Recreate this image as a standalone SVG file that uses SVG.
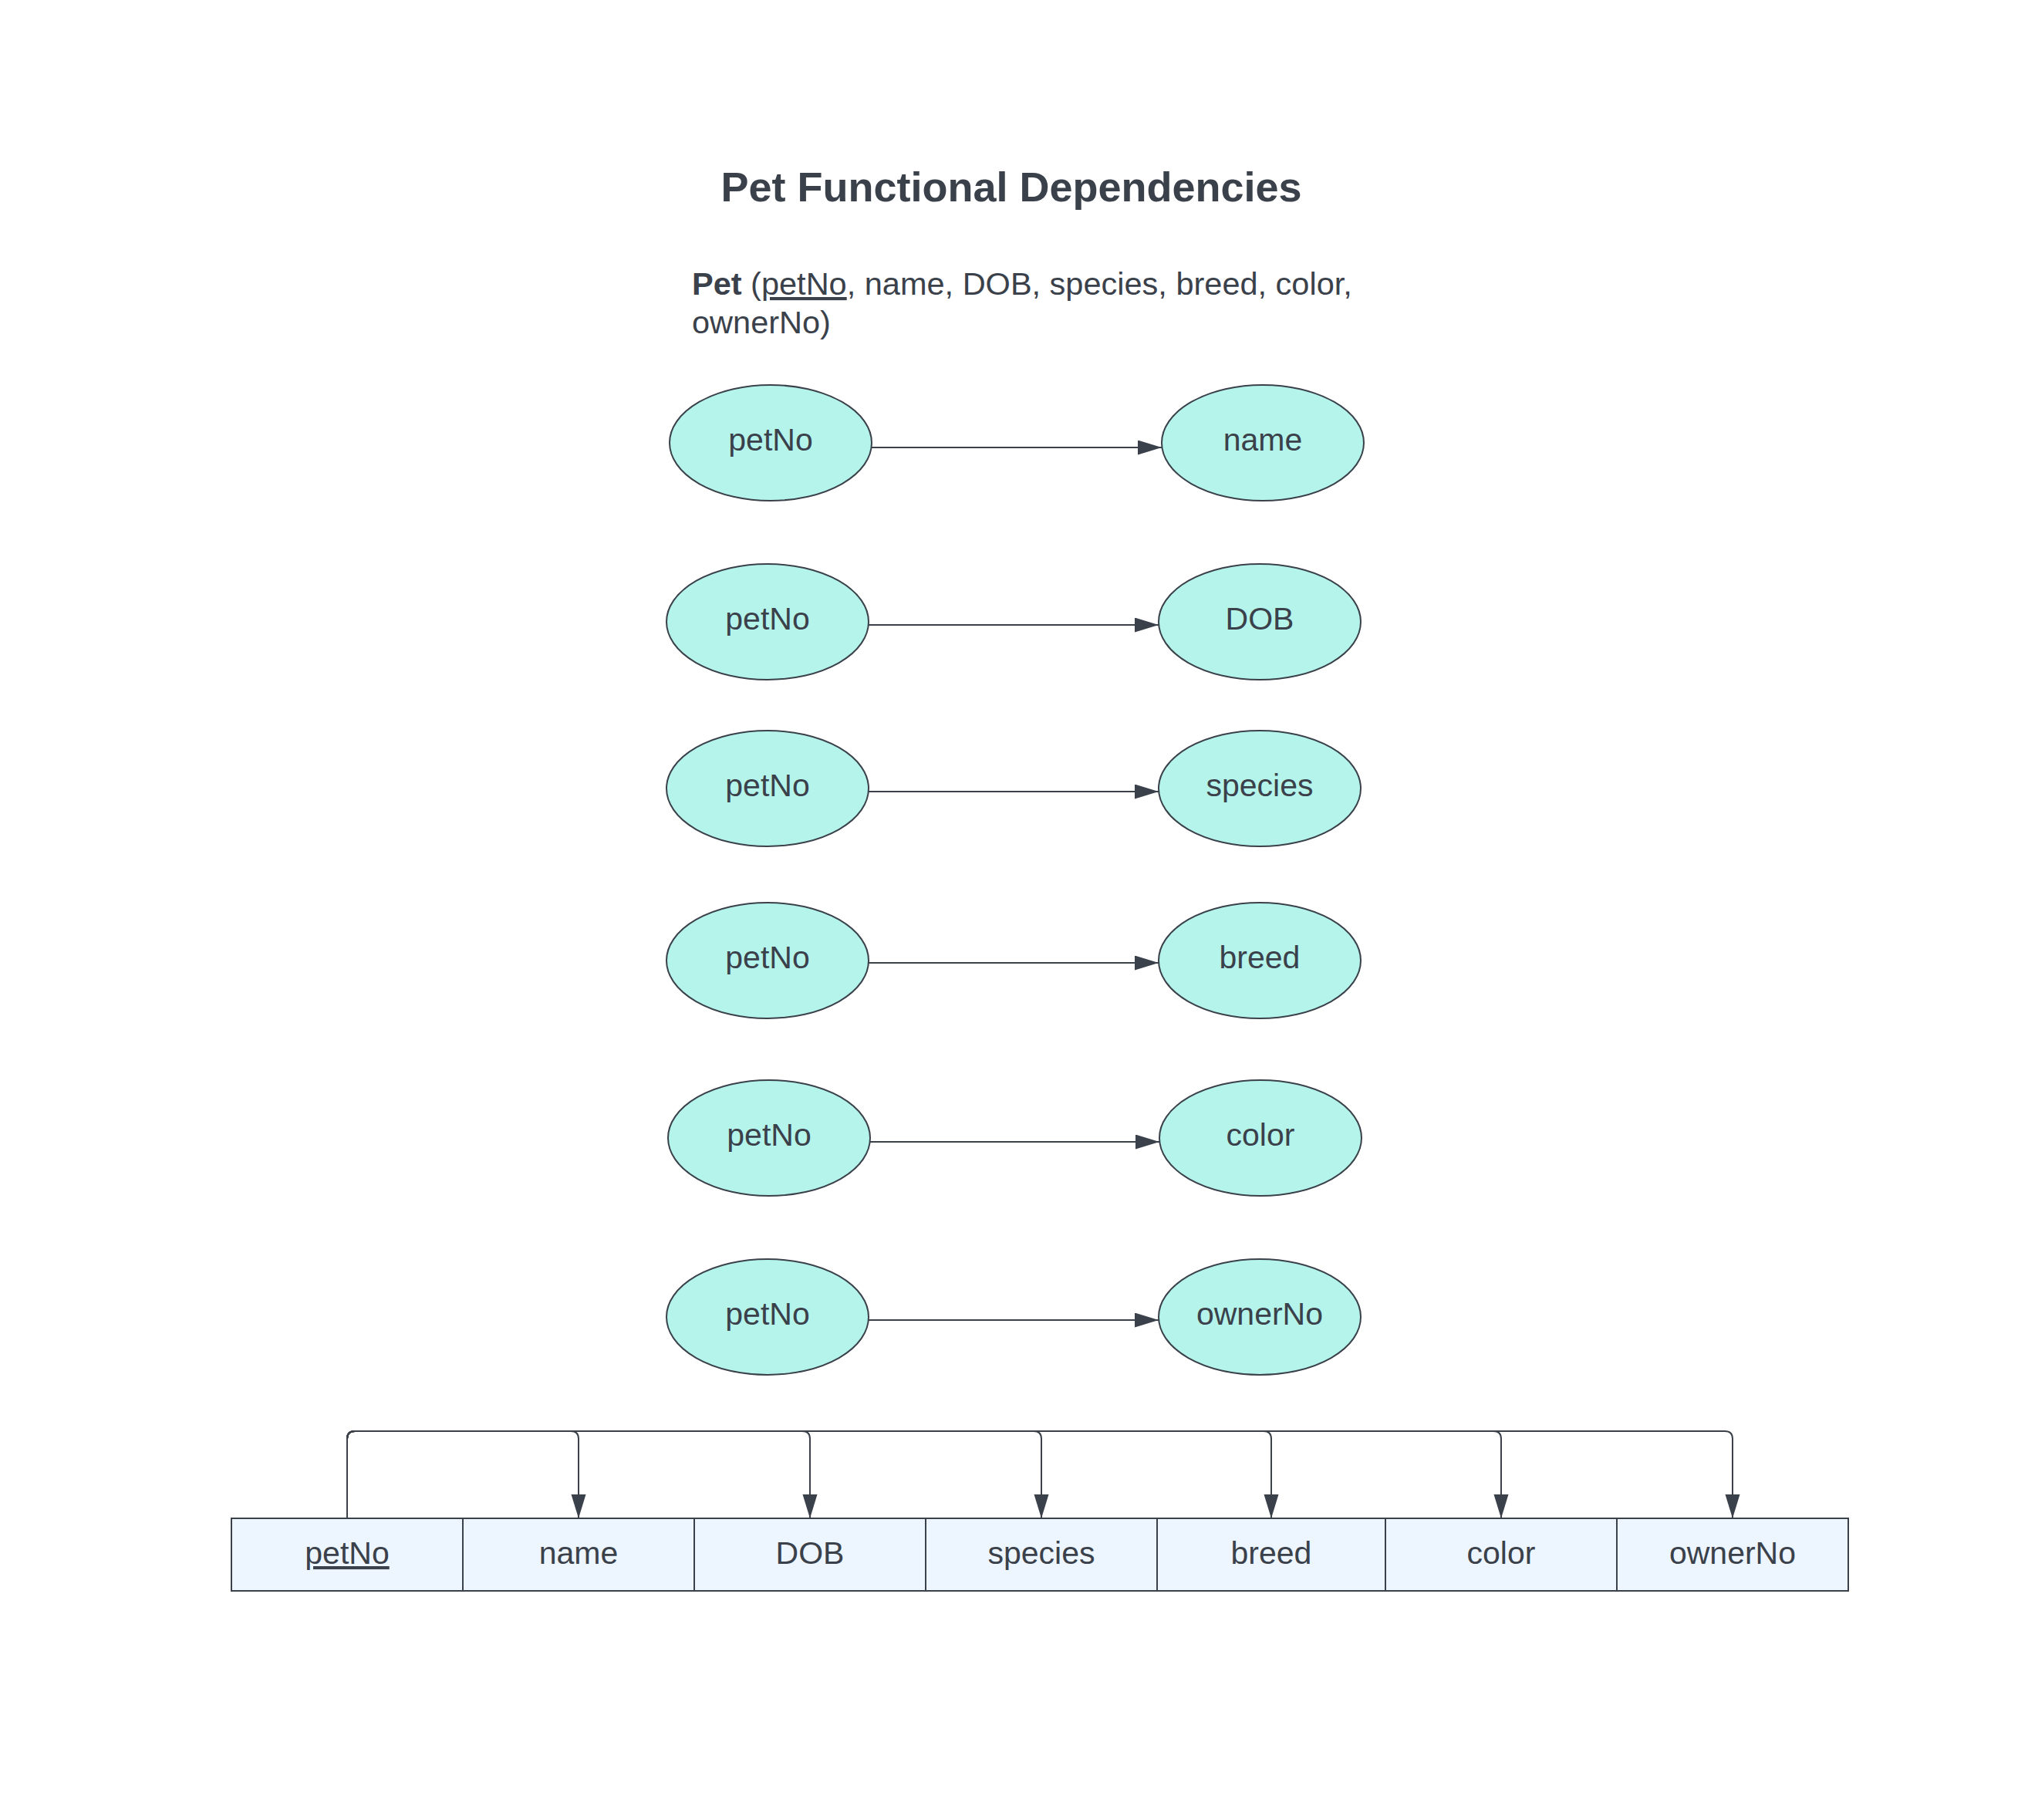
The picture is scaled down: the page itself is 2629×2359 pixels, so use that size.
<svg xmlns="http://www.w3.org/2000/svg" width="2629" height="2359" viewBox="0 0 2629 2359">
<defs>
<marker id="arr" markerUnits="userSpaceOnUse" markerWidth="32" markerHeight="20" refX="31" refY="9.5" orient="auto">
<path d="M0,0 L31,9.5 L0,19 z" fill="#3a414a"/>
</marker>
<style>
.t{font-family:"Liberation Sans",Arial,sans-serif;fill:#3a414a}
.lbl{font-size:41px;text-anchor:middle}
.ell{fill:#b5f4ea;stroke:#3a414a;stroke-width:2}
.cell{fill:#edf5ff;stroke:#3a414a;stroke-width:2}
.con{fill:none;stroke:#3a414a;stroke-width:2;marker-end:url(#arr)}
</style>
</defs>
<rect width="2629" height="2359" fill="#ffffff"/>
<text class="t" x="1311" y="261" font-size="54" font-weight="bold" text-anchor="middle">Pet Functional Dependencies</text>
<text class="t" font-size="41.5"><tspan x="897" y="382"><tspan font-weight="bold">Pet</tspan> (<tspan text-decoration="underline">petNo</tspan>, name, DOB, species, breed, color,</tspan><tspan x="897" y="432">ownerNo)</tspan></text>

<g id="r1l"><ellipse class="ell" cx="999" cy="574" rx="131" ry="75"/><text class="t lbl" x="999" y="584">petNo</text></g>
<g id="r1r"><ellipse class="ell" cx="1637" cy="574" rx="131" ry="75"/><text class="t lbl" x="1637" y="584">name</text></g>
<g id="r2l"><ellipse class="ell" cx="995" cy="806" rx="131" ry="75"/><text class="t lbl" x="995" y="816">petNo</text></g>
<g id="r2r"><ellipse class="ell" cx="1633" cy="806" rx="131" ry="75"/><text class="t lbl" x="1633" y="816">DOB</text></g>
<g id="r3l"><ellipse class="ell" cx="995" cy="1022" rx="131" ry="75"/><text class="t lbl" x="995" y="1032">petNo</text></g>
<g id="r3r"><ellipse class="ell" cx="1633" cy="1022" rx="131" ry="75"/><text class="t lbl" x="1633" y="1032">species</text></g>
<g id="r4l"><ellipse class="ell" cx="995" cy="1245" rx="131" ry="75"/><text class="t lbl" x="995" y="1255">petNo</text></g>
<g id="r4r"><ellipse class="ell" cx="1633" cy="1245" rx="131" ry="75"/><text class="t lbl" x="1633" y="1255">breed</text></g>
<g id="r5l"><ellipse class="ell" cx="997" cy="1475" rx="131" ry="75"/><text class="t lbl" x="997" y="1485">petNo</text></g>
<g id="r5r"><ellipse class="ell" cx="1634" cy="1475" rx="131" ry="75"/><text class="t lbl" x="1634" y="1485">color</text></g>
<g id="r6l"><ellipse class="ell" cx="995" cy="1707" rx="131" ry="75"/><text class="t lbl" x="995" y="1717">petNo</text></g>
<g id="r6r"><ellipse class="ell" cx="1633" cy="1707" rx="131" ry="75"/><text class="t lbl" x="1633" y="1717">ownerNo</text></g>

<g id="table">
<g id="c-petNo"><rect class="cell" x="300" y="1968" width="300" height="94"/><text class="t lbl" x="450" y="2027" text-decoration="underline">petNo</text></g>
<g id="c-name"><rect class="cell" x="600" y="1968" width="300" height="94"/><text class="t lbl" x="750" y="2027">name</text></g>
<g id="c-DOB"><rect class="cell" x="900" y="1968" width="300" height="94"/><text class="t lbl" x="1050" y="2027">DOB</text></g>
<g id="c-species"><rect class="cell" x="1200" y="1968" width="300" height="94"/><text class="t lbl" x="1350" y="2027">species</text></g>
<g id="c-breed"><rect class="cell" x="1500" y="1968" width="296" height="94"/><text class="t lbl" x="1648" y="2027">breed</text></g>
<g id="c-color"><rect class="cell" x="1796" y="1968" width="300" height="94"/><text class="t lbl" x="1946" y="2027">color</text></g>
<g id="c-ownerNo"><rect class="cell" x="2096" y="1968" width="300" height="94"/><text class="t lbl" x="2246" y="2027">ownerNo</text></g>
</g>

<g id="connectors">
<path class="con" d="M1130,580 H1506"/>
<path class="con" d="M1126,810 H1502"/>
<path class="con" d="M1126,1026 H1502"/>
<path class="con" d="M1126,1248 H1502"/>
<path class="con" d="M1128,1480 H1503"/>
<path class="con" d="M1126,1711 H1502"/>
<path class="con" d="M450,1968 V1865 Q450,1855 460,1855 H740 Q750,1855 750,1865 V1968"/>
<path class="con" d="M450,1968 V1865 Q450,1855 460,1855 H1040 Q1050,1855 1050,1865 V1968"/>
<path class="con" d="M450,1968 V1865 Q450,1855 460,1855 H1340 Q1350,1855 1350,1865 V1968"/>
<path class="con" d="M450,1968 V1865 Q450,1855 460,1855 H1638 Q1648,1855 1648,1865 V1968"/>
<path class="con" d="M450,1968 V1865 Q450,1855 460,1855 H1936 Q1946,1855 1946,1865 V1968"/>
<path class="con" d="M450,1968 V1865 Q450,1855 460,1855 H2236 Q2246,1855 2246,1865 V1968"/>
</g>
</svg>
